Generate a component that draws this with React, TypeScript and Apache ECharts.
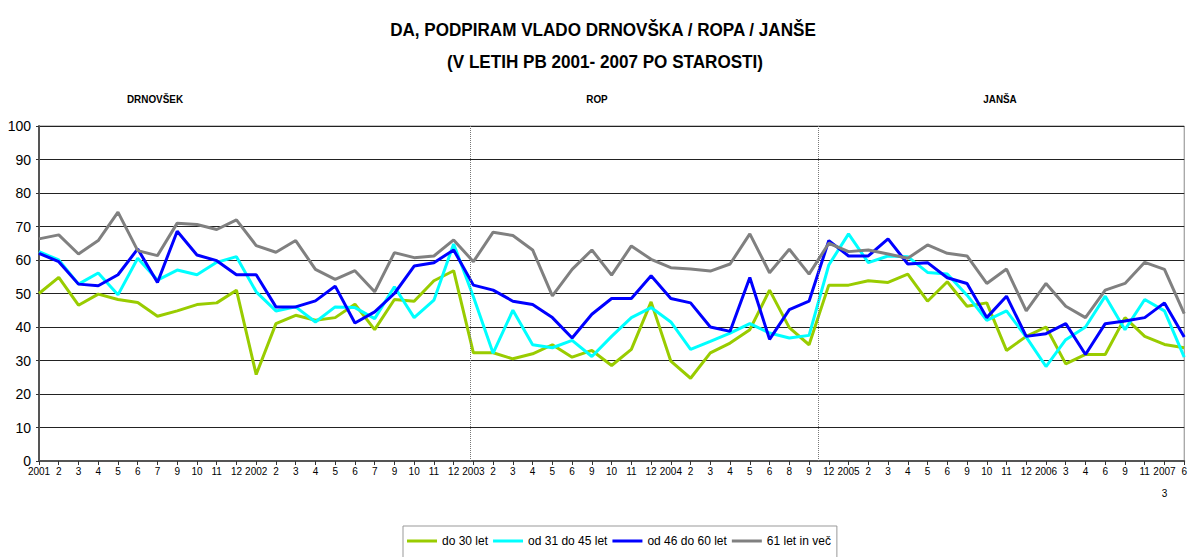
import React, { useEffect, useRef } from "react";
import * as echarts from "echarts";

const categories = [
  "2001", "2", "3", "4", "5", "6", "7", "9", "10", "11", "12",
  "2002", "2", "3", "4", "5", "6", "7", "9", "10", "11", "12",
  "2003", "2", "3", "4", "5", "6", "9", "10", "11", "12",
  "2004", "2", "3", "4", "5", "6", "8", "9", "12",
  "2005", "2", "3", "4", "5", "6", "9", "10", "11", "12",
  "2006", "3", "4", "6", "9", "11",
  "2007\n\n3", "6",
];

const do30 = [
  50, 54.8, 46.5, 49.8, 48.2, 47.3, 43.2, 44.8, 46.7, 47.2, 51,
  25.8, 41, 43.5, 42, 42.8, 46.8, 39.2, 48.2, 47.7, 53.8, 56.8,
  32.3, 32.3, 30.5, 32, 34.7, 31, 33, 28.5, 33.3, 47.5,
  29.8, 24.7, 32.3, 35.2, 39.2, 51, 39.8, 34.7, 52.5,
  52.5, 53.8, 53.3, 55.8, 47.7, 53.5, 46.2, 47.2, 33, 37.2,
  40, 29, 31.8, 31.8, 42.8, 37.2,
  34.8, 33.8,
];

const od31do45 = [
  62.5, 60, 52.8, 56.1, 49.6, 60.5, 54, 57, 55.6, 59.3, 61,
  50.5, 44.8, 46, 41.5, 46, 45.8, 42.5, 52, 42.8, 48, 64.8,
  49, 32.2, 45, 34.7, 33.8, 36, 31.2, 37.2, 42.8, 45.8,
  41.5, 33.3, 35.7, 38.2, 41, 38.2, 36.7, 37.5, 58.5,
  67.8, 59.2, 61.2, 61, 56.3, 55.8, 49.5, 42, 44.8, 37,
  28.2, 36.2, 40, 49.2, 39.2, 48.2,
  44.8, 31,
];

const od46do60 = [
  62, 59.5, 52.8, 52.3, 55.6, 63.3, 53.3, 68.6, 61.5, 59.8, 55.6,
  55.6, 46, 46, 47.8, 52.2, 41.2, 44.5, 50, 58.2, 59.2, 63,
  52.5, 51, 47.7, 46.7, 42.8, 36.7, 43.8, 48.5, 48.5, 55.3,
  48.5, 47.2, 40, 38.7, 54.8, 36.3, 45.2, 47.7, 65.8,
  61.2, 61.2, 66.3, 58.8, 59.2, 54.7, 53, 42.8, 49.2, 37.2,
  38, 41, 31.8, 41, 41.8, 42.8,
  47.2, 37,
];

const let61 = [
  66.3, 67.5, 61.8, 65.8, 74.3, 62.8, 61.3, 71, 70.6, 69.1, 72,
  64.3, 62.3, 65.8, 57.2, 54.2, 56.8, 50.5, 62.2, 60.7, 61.2, 66,
  59.5, 68.3, 67.3, 63, 49.3, 57.2, 63, 55.5, 64.2, 60.2,
  57.7, 57.3, 56.7, 58.8, 67.8, 56.2, 63.2, 55.8, 65,
  62.5, 63, 61.8, 60.5, 64.5, 62, 61.2, 53, 57.3, 44.8,
  53, 46.2, 42.8, 51, 53, 59.3,
  57.2, 44,
];

const seriesNames = ["do 30 let", "od 31 do 45 let", "od 46 do 60 let", "61 let in več"];
const seriesColors = ["#99CC00", "#00FFFF", "#0000FF", "#808080"];
const yTicks = { min: 0, max: 100, interval: 10 };
// government change positions (in category index units)
const dividers = [21.86, 39.45];
const titleLines = ["DA, PODPIRAM VLADO DRNOVŠKA / ROPA / JANŠE", "(V LETIH PB 2001- 2007 PO STAROSTI)"];
const sectionLabels = [
  { text: "DRNOVŠEK", x: 155 },
  { text: "ROP", x: 597 },
  { text: "JANŠA", x: 1000 },
];

const FONT = "'Liberation Sans Narrow', 'Arial Narrow', 'Liberation Sans', Arial, sans-serif";

export default function App() {
  const ref = useRef<HTMLDivElement>(null);

  useEffect(() => {
    document.body.style.margin = "0";
    if (!ref.current) return;
    const chart = echarts.init(ref.current, undefined, { renderer: "svg" });
    const allData = [do30, od31do45, od46do60, let61];

    const series: any[] = allData.map((d, i) => ({
      name: seriesNames[i],
      type: "line",
      data: d,
      symbol: "none",
      xAxisIndex: 0,
      yAxisIndex: 0,
      lineStyle: { width: 3, color: seriesColors[i] },
      itemStyle: { color: seriesColors[i] },
    }));
    series.push({
      name: "dividers",
      type: "line",
      xAxisIndex: 1,
      yAxisIndex: 0,
      data: [],
      silent: true,
      markLine: {
        silent: true,
        symbol: ["none", "none"],
        label: { show: false },
        lineStyle: { type: "dotted", color: "#777", width: 1 },
        data: dividers.map((v) => ({ xAxis: v })),
      },
    });

    chart.setOption({
      animation: false,
      backgroundColor: "#fff",
      graphic: [
        {
          type: "text",
          x: 603,
          y: 30,
          scaleX: 0.9,
          style: {
            text: titleLines[0],
            font: `bold 19px ${FONT}`,
            fill: "#000",
            textAlign: "center",
            textVerticalAlign: "middle",
          },
        },
        {
          type: "text",
          x: 605,
          y: 62,
          scaleX: 0.9,
          style: {
            text: titleLines[1],
            font: `bold 19px ${FONT}`,
            fill: "#000",
            textAlign: "center",
            textVerticalAlign: "middle",
          },
        },
        ...sectionLabels.map((s) => ({
          type: "text",
          x: s.x,
          y: 99,
          scaleX: 0.9,
          style: {
            text: s.text,
            font: `bold 11px ${FONT}`,
            fill: "#000",
            textAlign: "center",
            textVerticalAlign: "middle",
          },
        })),
      ],
      legend: {
        data: seriesNames,
        left: 403,
        top: 526,
        orient: "horizontal",
        icon: "rect",
        itemWidth: 30,
        itemHeight: 3,
        itemGap: 5,
        borderColor: "#999",
        borderWidth: 1,
        padding: [9, 6, 20, 4],
        textStyle: { fontFamily: FONT, fontSize: 12, color: "#000" },
      },
      grid: {
        left: 39,
        right: 2,
        top: 126,
        bottom: 96,
        show: true,
        borderColor: "#888",
        borderWidth: 1,
        containLabel: false,
      },
      xAxis: [
        {
          type: "category",
          data: categories,
          boundaryGap: false,
          axisLine: { lineStyle: { color: "#555", width: 2 } },
          axisTick: { show: true, length: 4, alignWithLabel: true, interval: 0, lineStyle: { color: "#333" } },
          axisLabel: {
            interval: 0,
            fontFamily: FONT,
            fontSize: 10,
            lineHeight: 11,
            color: "#000",
            margin: 5,
          },
          splitLine: { show: false },
        },
        {
          type: "value",
          min: 0,
          max: categories.length - 1,
          show: false,
          gridIndex: 0,
        },
      ],
      yAxis: {
        type: "value",
        min: yTicks.min,
        max: yTicks.max,
        interval: yTicks.interval,
        axisLine: { show: true, lineStyle: { color: "#555", width: 2 } },
        axisTick: { show: true, length: 3, lineStyle: { color: "#333" } },
        axisLabel: { fontFamily: FONT, fontSize: 14, color: "#000", margin: 8 },
        splitLine: { lineStyle: { color: "#222", width: 1 } },
      },
      series,
    });

    return () => chart.dispose();
  }, []);

  return <div ref={ref} style={{ width: 1190, height: 557 }} />;
}
